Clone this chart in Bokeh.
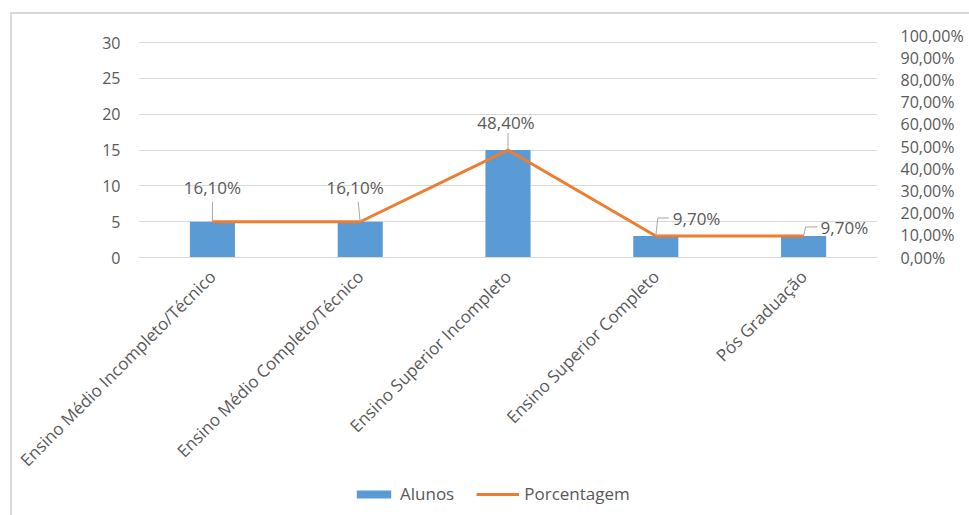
import math
from bokeh.plotting import figure
from bokeh.layouts import column
from bokeh.models import (ColumnDataSource, Range1d, LinearAxis, FixedTicker, Plot,
                          CustomJSTickFormatter, Legend, LegendItem, VBar, Line)
from bokeh.core.properties import value
from bokeh.embed import file_html
from bokeh.resources import INLINE

# ---------------- data ----------------
categories = ["Ensino Médio Incompleto/Técnico", "Ensino Médio Completo/Técnico",
              "Ensino Superior Incompleto", "Ensino Superior Completo", "Pós Graduação"]
alunos = [5, 5, 15, 3, 3]
porcentagem = [0.161, 0.161, 0.484, 0.097, 0.097]
left_ticks = [0, 5, 10, 15, 20, 25, 30]
right_ticks = [0.0, 0.1, 0.2, 0.3, 0.4, 0.5, 0.6, 0.7, 0.8, 0.9, 1.0]
series_names = ["Alunos", "Porcentagem"]

# ---------------- style / layout ----------------
FONT = "Open Sans"
TXT = "#595959"
GRID = "#D9D9D9"
BLUE = "#5B9BD5"
ORANGE = "#ED7D31"
OX, OY = 12, 14                      # page offset produced by css margin + border
LEG_H = 33                           # height of the legend strip
W = 969 - OX
H = 515 - OY - LEG_H
FL, FR, FT, FB = 138 - OX, 877 - OX, 35 - OY, 257 - OY
FH = FB - FT
CW = (FR - FL) / len(categories)
left_max = 30 * FH / 215.0

# data-label offsets in pixels (dx right, dy up) and alignment
lab_dx = [0, -5, -2, 17, 17]
lab_dy = [34, 34, 28, 17, 8]
lab_align = ["center", "center", "center", "left", "left"]
# leader lines: (dx1, dy1, dx2, dy2) pixels from the point
leaders = [(0, 20, 0, 20), (-2, 20, -2, 20), (0, 17, 0, 17), (2, 18, 13, 18), (2, 9, 14, 9)]

def fmt(v):
    return ("%.2f" % (v * 100)).replace(".", ",") + "%"

p = figure(width=W, height=H, x_range=categories, y_range=Range1d(0, left_max),
           output_backend="svg", toolbar_location=None,
           min_border_left=FL, min_border_right=W - FR,
           min_border_top=FT, min_border_bottom=H - FB)
p.outline_line_color = None
p.background_fill_color = "white"
p.border_fill_color = "white"
p.extra_y_ranges = {"pct": Range1d(0, 1)}

src = ColumnDataSource(dict(cat=categories, alunos=alunos, pct=porcentagem,
                            label=[fmt(v) for v in porcentagem],
                            dx=lab_dx, dy=[-d for d in lab_dy], align=lab_align))

bars = p.vbar(x="cat", top="alunos", width=0.305, source=src,
              fill_color=BLUE, line_color=None)
line = p.line(x="cat", y="pct", y_range_name="pct", source=src,
              line_color=ORANGE, line_width=3, line_join="round")

# leader lines
xs0, ys0, xs1, ys1 = [], [], [], []
for i, v in enumerate(porcentagem):
    cx = i + 0.5
    dx1, dy1, dx2, dy2 = leaders[i]
    xs0 += [cx, cx + dx1 / CW]
    ys0 += [v, v + dy1 / FH]
    xs1 += [cx + dx1 / CW, cx + dx2 / CW]
    ys1 += [v + dy1 / FH, v + dy2 / FH]
p.segment(x0=xs0, y0=ys0, x1=xs1, y1=ys1, y_range_name="pct",
          line_color="#A6A6A6", line_width=1)

p.text(x="cat", y="pct", text="label", source=src, y_range_name="pct",
       x_offset="dx", y_offset="dy", text_align="align", text_baseline="middle",
       text_font=value(FONT), text_font_size="17px", text_color=TXT)

# axes
p.yaxis.ticker = FixedTicker(ticks=left_ticks)
ya = p.yaxis[0]
ya.axis_line_color = None
ya.major_tick_line_color = None
ya.minor_tick_line_color = None
ya.major_label_text_font = FONT
ya.major_label_text_font_size = "16px"
ya.major_label_text_color = TXT
ya.major_label_standoff = 12

rax = LinearAxis(y_range_name="pct", ticker=FixedTicker(ticks=right_ticks),
                 formatter=CustomJSTickFormatter(code="return (tick*100).toFixed(2).replace('.', ',') + '%';"))
rax.axis_line_color = None
rax.major_tick_line_color = None
rax.minor_tick_line_color = None
rax.major_label_text_font = FONT
rax.major_label_text_font_size = "16px"
rax.major_label_text_color = TXT
rax.major_label_standoff = 17
p.add_layout(rax, "right")

xa = p.xaxis[0]
xa.axis_line_color = GRID
xa.major_tick_line_color = None
xa.minor_tick_line_color = None
xa.major_label_orientation = math.pi / 4
xa.major_label_text_font = FONT
xa.major_label_text_font_size = "17px"
xa.major_label_text_color = TXT
xa.major_label_standoff = 10

p.xgrid.grid_line_color = None
p.ygrid.grid_line_color = GRID
p.ygrid.grid_line_width = 1

# ---------------- legend strip (a bare Plot with no axes) ----------------
p2 = Plot(width=W, height=LEG_H, x_range=Range1d(0, 1), y_range=Range1d(0, 1),
          output_backend="svg", toolbar_location=None, outline_line_color=None,
          min_border_left=0, min_border_right=0, min_border_top=0, min_border_bottom=0,
          background_fill_color="white", border_fill_color="white")
# degenerate proxies far off-canvas: only their legend swatches are drawn
psrc = ColumnDataSource(dict(x=[-1000.0], y=[0.0], top=[0.0]))
lb = p2.add_glyph(psrc, VBar(x="x", top="top", width=0.0, fill_color=BLUE, line_color=None))
ll = p2.add_glyph(psrc, Line(x="x", y="y", line_color=ORANGE, line_width=3))
legend = Legend(items=[LegendItem(label=series_names[0], renderers=[lb]),
                       LegendItem(label=series_names[1], renderers=[ll])],
                orientation="horizontal", location=(214, LEG_H - 23),
                glyph_width=43, glyph_height=10, label_height=16,
                label_standoff=5, spacing=22,
                padding=0, margin=0, border_line_color=None, background_fill_alpha=0,
                label_text_font=FONT, label_text_font_size="17px", label_text_color=TXT)
p2.add_layout(legend)

layout = column(p, p2, spacing=0)
layout.styles = {"margin-left": "10px", "margin-top": "12px",
                 "border-left": "2px solid #D9D9D9", "border-top": "2px solid #D9D9D9"}

open("out.html", "w").write(file_html(layout, INLINE))
